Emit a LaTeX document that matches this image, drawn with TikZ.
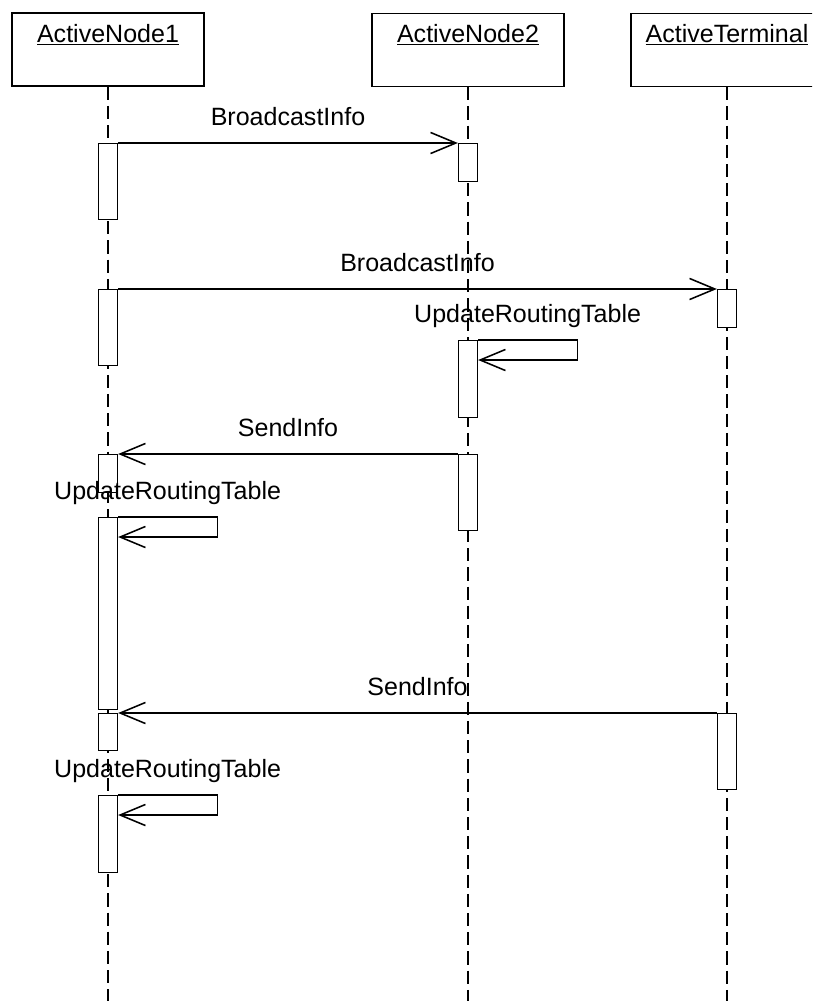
\documentclass[tikz,border=0pt]{standalone}
\usepackage{fontspec}
\setmainfont{Liberation Sans}
\usetikzlibrary{arrows.meta,positioning}

\begin{document}
\begin{tikzpicture}[x=0.025cm,y=-0.025cm,font=\fontsize{17.8}{20}\selectfont,
    >={Straight Barb[length=18pt,width=15pt,line width=1.1pt]},
    head/.style={draw,line width=1pt,minimum width=4.8cm,minimum height=1.825cm,inner sep=0pt},
    lifeline/.style={line width=0.9pt,dash pattern=on 0.33cm off 0.15cm},
    act/.style={draw,fill=white,line width=0.9pt,minimum width=0.475cm,inner sep=0pt,anchor=north},
    msg/.style={->,line width=0.9pt},
    msglabel/.style={midway,anchor=base,yshift=12.5pt}]
  \useasboundingbox (0,0) rectangle (812,1001);
  \clip (0,0) rectangle (812,1001);

  \node[head] (n1) at (108,49.5) {};
  \node[head] (n2) at (468,50) {};
  \node[head] (term) at (727,50) {};
  \node[anchor=base] (n1name) at (108,42) {\underline{ActiveNode1}};
  \node[anchor=base] (n2name) at (468,42) {\underline{ActiveNode2}};
  \node[anchor=base] (termname) at (727,42) {\underline{ActiveTerminal}};

  \foreach \h in {n1,n2,term}{
    \coordinate (\h-end) at (\h.south |- 0,1001);
    \draw[lifeline] (\h.south) -- (\h-end);
  }

  \node[act,minimum height=1.9cm] (a1) at (108,143) {};
  \node[act,minimum height=0.95cm] (b1) at (468,143) {};
  \node[act,minimum height=1.9cm] (a2) at (108,289) {};
  \node[act,minimum height=0.95cm] (c1) at (727,289) {};
  \node[act,minimum height=1.925cm] (b2) at (468,340) {};
  \node[act,minimum height=1.9cm] (b3) at (468,454) {};
  \node[act,minimum height=0.95cm] (a3) at (108,454) {};
  \node[act,minimum height=4.8cm] (a4) at (108,517) {};
  \node[act,minimum height=0.925cm] (a5) at (108,713) {};
  \node[act,minimum height=1.9cm] (c2) at (727,713) {};
  \node[act,minimum height=1.925cm] (a6) at (108,795) {};

  \draw[msg] (a1.north east) -- (b1.north west) node[msglabel] {BroadcastInfo};
  \draw[msg] (a2.north east) -- (c1.north west) node[msglabel] {BroadcastInfo};
  \draw[msg] (b2.north east) -- ++(99,0) node[msglabel] {UpdateRoutingTable}
    |- ([yshift=-0.5cm]b2.north east);
  \draw[msg] (b3.north west) -- (a3.north east) node[msglabel] {SendInfo};
  \draw[msg] (a4.north east) -- ++(99,0) node[msglabel] {UpdateRoutingTable}
    |- ([yshift=-0.5cm]a4.north east);
  \draw[msg] (c2.north west) -- (a5.north east) node[msglabel] {SendInfo};
  \draw[msg] (a6.north east) -- ++(99,0) node[msglabel] {UpdateRoutingTable}
    |- ([yshift=-0.5cm]a6.north east);
\end{tikzpicture}
\end{document}
